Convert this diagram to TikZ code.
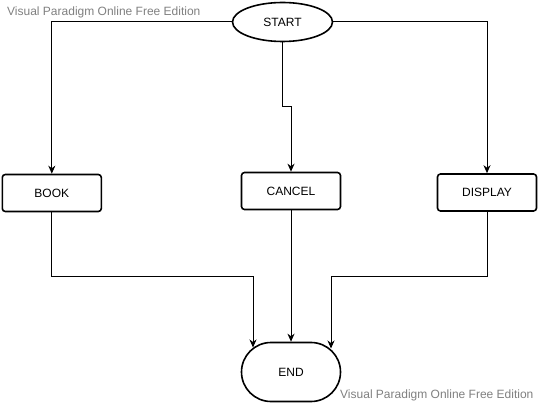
\documentclass[tikz,border=0pt]{standalone}
\usepackage{fontspec}
\setmainfont{Liberation Sans}
\usetikzlibrary{arrows.meta,shapes.geometric,shapes.misc}
\definecolor{wmgray}{RGB}{128,128,128}
\begin{document}
\begin{tikzpicture}[x=1pt,y=-1pt,
  every node/.style={font=\fontsize{12}{14}\selectfont, inner sep=0pt},
  shapebox/.style={draw, line width=1.6pt, rectangle, rounded corners=3pt, minimum width=99pt, minimum height=37pt},
  conn/.style={draw, line width=1pt},
  arr/.style={conn, -{Stealth[length=8pt,width=7pt,inset=2.5pt]}},
  wm/.style={text=wmgray, anchor=base west}]
\useasboundingbox (0,0) rectangle (538,403);
\node[draw, ellipse, line width=1.6pt, minimum width=100pt, minimum height=39pt] (start) at (282.5,22) {START};
\node[shapebox] (book) at (51.8,193) {BOOK};
\node[shapebox] (cancel) at (291,191) {CANCEL};
\node[shapebox] (display) at (487,192.5) {DISPLAY};
\node[draw, rounded rectangle, line width=1.6pt, minimum width=99pt, minimum height=59pt] (end) at (291,372) {END};
\node[wm] (wm1) at (7,15.5) {Visual Paradigm Online Free Edition};
\node[wm] (wm2) at (340,398) {Visual Paradigm Online Free Edition};
\coordinate (jog) at (0,107);
\coordinate (bend) at (0,277);
\coordinate (eL) at (253,347.5);
\coordinate (eR) at (331,348.5);
\draw[arr] (start.west) -| (book.north);
\draw[arr] (start.east) -| (display.north);
\draw[arr] (start.south) -- (start.south |- jog) -- (cancel.north |- jog) -- (cancel.north);
\draw[arr] (book.south) -- (book.south |- bend) -| (eL);
\draw[arr] (cancel.south) -- (end.north);
\draw[arr] (display.south) -- (display.south |- bend) -| (eR);
\end{tikzpicture}
\end{document}
